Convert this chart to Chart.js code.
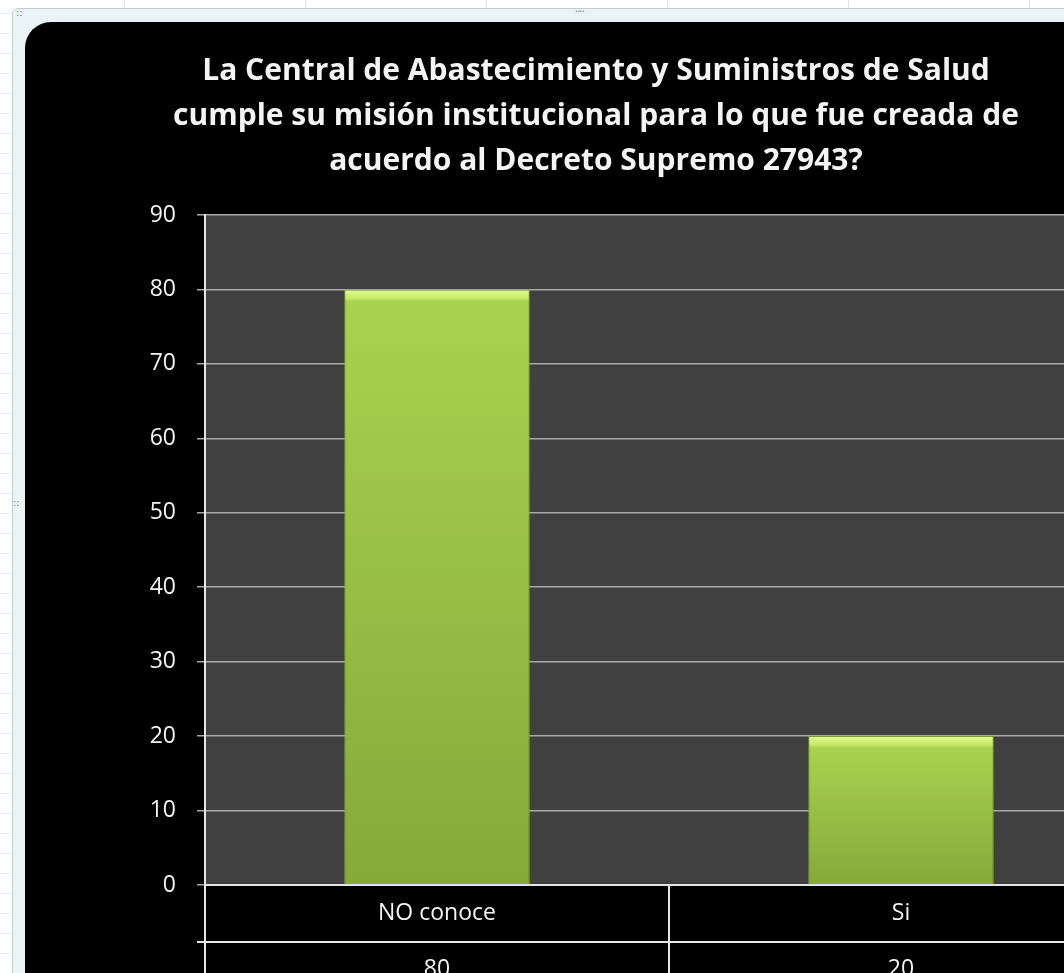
<!DOCTYPE html>
<html>
<head>
    <title>Central de Abastecimiento</title>
    <script src="https://cdn.jsdelivr.net/npm/chart.js"></script>
    <style>
        body {
            margin: 0;
            width: 1064px;
            height: 973px;
            overflow: hidden;
            background-color: #ffffff;
            background-image:
                repeating-linear-gradient(90deg, transparent 0 124px, #dfe7ee 124px 125px, transparent 125px 181px),
                repeating-linear-gradient(0deg, transparent 0 19px, #e6edf2 19px 20px);
            position: relative;
        }
        #frame {
            position: absolute;
            left: 12px;
            top: 8px;
            width: 1100px;
            height: 1100px;
            background: #eaf3f5;
            border: 1px solid #c3ccd2;
            border-top-left-radius: 6px;
        }
        #panel {
            position: absolute;
            left: 25px;
            top: 22px;
            width: 1120px;
            height: 1000px;
            background: #000000;
            border-top-left-radius: 26px;
            overflow: hidden;
        }
        .dots {
            position: absolute;
            color: #7a8088;
            font: 10px "DejaVu Sans";
            line-height: 6px;
        }
    </style>
</head>
<body>
    <div id="frame"></div>
    <div class="dots" style="left:16px; top:10px;">::</div>
    <div class="dots" style="left:575px; top:6px; letter-spacing:-1px;">....</div>
    <div class="dots" style="left:13px; top:500px; width:4px; word-break:break-all;">::</div>
    <div id="panel">
        <canvas id="chart" width="1120" height="1000"></canvas>
    </div>

    <script>
        // data
        const categories = ['NO conoce', 'Si'];
        const values = [80, 20];
        const titleLines = [
            'La Central de Abastecimiento y Suministros de Salud',
            'cumple su misión institucional para lo que fue creada de',
            'acuerdo al Decreto Supremo 27943?'
        ];
        const yMin = 0;
        const yMax = 90;
        const yStep = 10;

        const fontFamily = '"Open Sans", Lato, sans-serif';

        // grey plot background
        const plotBackground = {
            id: 'plotBackground',
            beforeDraw(chart) {
                const a = chart.chartArea;
                const c = chart.ctx;
                c.save();
                c.fillStyle = '#404040';
                c.fillRect(a.left, a.top, a.right - a.left, a.bottom - a.top);
                c.restore();
            }
        };

        // Excel style data table under the x axis
        const dataTable = {
            id: 'dataTable',
            afterDraw(chart) {
                const a = chart.chartArea;
                const c = chart.ctx;
                const x = chart.scales.x;
                const rowH = 57;
                c.save();
                c.strokeStyle = '#e6e6e6';
                c.lineWidth = 2;
                c.beginPath();
                c.moveTo(a.left, a.top);
                c.lineTo(a.left, chart.height);
                c.moveTo(a.left - 8, a.bottom + rowH);
                c.lineTo(chart.width, a.bottom + rowH);
                for (let i = 0; i < categories.length; i++) {
                    let edge = i < categories.length - 1
                        ? (x.getPixelForValue(i) + x.getPixelForValue(i + 1)) / 2
                        : a.right;
                    c.moveTo(edge, a.bottom);
                    c.lineTo(edge, chart.height);
                }
                c.stroke();

                c.fillStyle = '#f4f4f4';
                c.font = '23px ' + fontFamily;
                c.textAlign = 'center';
                c.textBaseline = 'middle';
                categories.forEach((cat, i) => {
                    const cx = x.getPixelForValue(i);
                    c.fillText(cat, cx, a.bottom + rowH / 2);
                    c.fillText(String(values[i]), cx, a.bottom + rowH + 27);
                });
                c.restore();
            }
        };

        function barFill(context) {
            const chart = context.chart;
            if (!chart.chartArea) return '#a6cf4e';
            const y = chart.scales.y;
            const top = y.getPixelForValue(context.raw);
            const base = y.getPixelForValue(0);
            const h = Math.max(base - top, 1);
            const g = chart.ctx.createLinearGradient(0, top, 0, base);
            g.addColorStop(0, '#e2fa94');
            g.addColorStop(Math.min(8 / h, 0.5), '#c9ec6c');
            g.addColorStop(Math.min(12 / h, 0.6), '#a9d250');
            g.addColorStop(1, '#86a93a');
            return g;
        }

        new Chart(document.getElementById('chart'), {
            type: 'bar',
            data: {
                labels: categories,
                datasets: [{
                    data: values,
                    backgroundColor: barFill,
                    borderColor: '#7c9c33',
                    borderWidth: 1,
                    categoryPercentage: 1,
                    barPercentage: 0.4
                }]
            },
            options: {
                responsive: false,
                animation: false,
                layout: {
                    padding: { left: 34, right: 12, top: 0, bottom: 129 }
                },
                plugins: {
                    legend: { display: false },
                    tooltip: { enabled: false },
                    title: {
                        display: true,
                        text: titleLines,
                        color: '#f4f4f4',
                        font: { family: fontFamily, weight: 'bold', size: 30, lineHeight: 45 / 30 },
                        padding: { top: 27, bottom: 31 }
                    }
                },
                scales: {
                    x: {
                        type: 'category',
                        grid: { display: false },
                        ticks: { display: false },
                        border: { display: true, color: '#e6e6e6', width: 2 }
                    },
                    y: {
                        min: yMin,
                        max: yMax,
                        ticks: {
                            stepSize: yStep,
                            padding: 21,
                            color: '#f4f4f4',
                            font: { family: fontFamily, size: 23 }
                        },
                        grid: {
                            color: '#a8a8a8',
                            lineWidth: 1.5,
                            tickLength: 8
                        },
                        border: { display: true, color: '#e6e6e6', width: 2 },
                        afterFit(scale) {
                            scale.width = 146;
                        }
                    }
                }
            },
            plugins: [plotBackground, dataTable]
        });
    </script>
</body>
</html>
